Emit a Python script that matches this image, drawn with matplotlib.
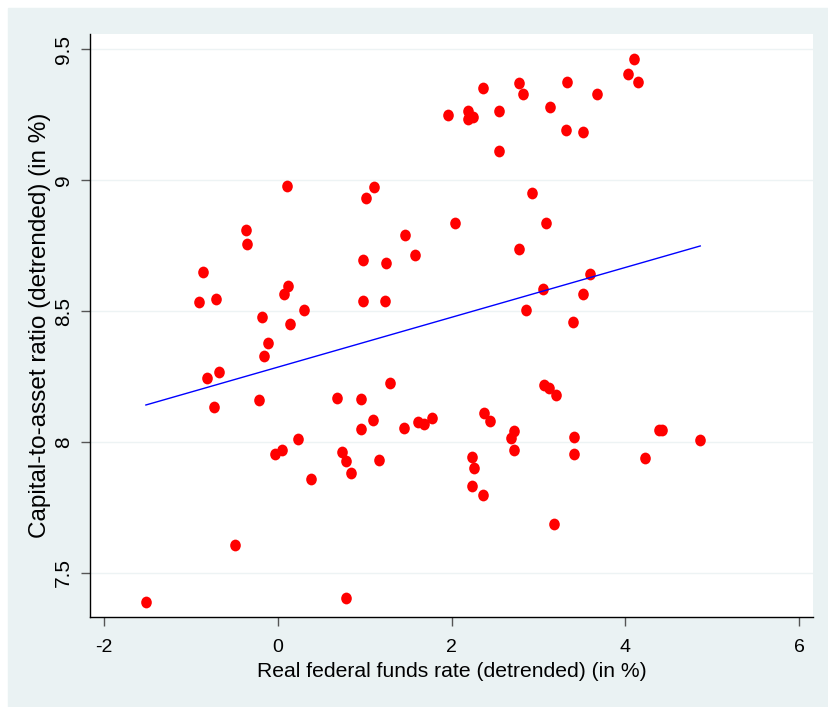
import numpy as np
import matplotlib
matplotlib.use("Agg")
import matplotlib.pyplot as plt
from matplotlib.patches import Rectangle
from matplotlib.path import Path
from matplotlib.transforms import Affine2D

# ── Dados ─────────────────────────────────────────────────────────────────────
# taxa real dos fed funds (desvio da tendência, %)
rate = [
    -1.518, -0.905, -0.859, -0.706, -0.813, -0.679, -0.736, -0.495, -0.361, -0.357,
    -0.219, -0.181, -0.161, -0.115, -0.035, 0.049, 0.110, 0.115, 0.076, 0.141,
    0.306, 0.230, 0.380, 0.679, 0.743, 0.782, 0.843, 0.782, 0.961, 0.961,
    0.981, 0.984, 1.015, 1.108, 1.093, 1.168, 1.234, 1.249, 1.292, 1.453,
    1.468, 1.576, 1.614, 1.686, 1.771, 1.959, 2.185, 2.185, 2.250, 2.365,
    2.549, 2.549, 2.772, 2.825, 3.135, 3.324, 3.319, 3.511, 3.672, 4.025,
    4.101, 4.140, 2.043, 2.928, 3.082, 2.779, 3.592, 3.055, 3.508, 2.852,
    3.396, 2.369, 2.445, 3.066, 3.120, 3.197, 2.721, 2.683, 2.721, 3.408,
    3.411, 2.235, 2.261, 2.235, 2.365, 3.174, 4.228, 4.389, 4.423, 4.860,
]
# razão capital/ativo (desvio da tendência, %)
capital = [
    7.391, 8.534, 8.650, 8.545, 8.244, 8.268, 8.134, 7.606, 8.811, 8.755,
    8.160, 8.478, 8.328, 8.377, 7.953, 7.968, 8.978, 8.595, 8.565, 8.451,
    8.504, 8.010, 7.860, 8.167, 7.961, 7.926, 7.880, 7.405, 8.165, 8.049,
    8.694, 8.540, 8.933, 8.972, 8.086, 7.930, 8.540, 8.684, 8.226, 8.054,
    8.792, 8.713, 8.077, 8.067, 8.092, 9.249, 9.265, 9.235, 9.240, 9.351,
    9.265, 9.110, 9.372, 9.327, 9.280, 9.374, 9.190, 9.185, 9.327, 9.406,
    9.462, 9.375, 8.838, 8.950, 8.838, 8.737, 8.640, 8.584, 8.567, 8.504,
    8.457, 8.109, 8.081, 8.216, 8.205, 8.180, 8.041, 8.016, 7.970, 8.018,
    7.956, 7.944, 7.901, 7.833, 7.797, 7.687, 7.938, 8.045, 8.045, 8.007,
]
# reta ajustada
FIT_INTERCEPT = 8.286
FIT_SLOPE     = 0.0952

XTICKS = [-2, 0, 2, 4, 6]
YTICKS = [7.5, 8, 8.5, 9, 9.5]
YTICK_LABELS = ["7.5", "8", "8.5", "9", "9.5"]

BG   = "#EAF2F3"
GRID = "#EDF3F4"

plt.rcParams["font.family"] = ["Liberation Sans", "DejaVu Sans"]
plt.rcParams["axes.unicode_minus"] = False

fig = plt.figure(figsize=(8.29, 7.07), dpi=100)
fig.patches.append(Rectangle((8 / 829, 0), 1, 1 - 8 / 707,
                             transform=fig.transFigure, color=BG, zorder=-10))

ax = fig.add_axes([90 / 829, 90 / 707, (812.7 - 90) / 829, (617 - 34) / 707])
ax.set_facecolor("white")

# marcador levemente oval, como no Stata
oval = Path.unit_circle().transformed(Affine2D().scale(0.9, 1.0))

ax.scatter(rate, capital, s=72, marker=oval, color="#FF0000",
           linewidths=0, zorder=3)

xs = np.array([min(rate), max(rate)])
ax.plot(xs, FIT_INTERCEPT + FIT_SLOPE * xs, color="#0000FF", lw=1.0, zorder=4)

ax.set_xlim(-2.161, 6.154)
ax.set_ylim(7.332, 9.558)
ax.set_xticks(XTICKS)
ax.set_yticks(YTICKS)
ax.set_yticklabels(YTICK_LABELS)

ax.grid(axis="y", color=GRID, lw=1.0, zorder=1)
ax.grid(axis="x", visible=False)

for side in ("top", "right"):
    ax.spines[side].set_visible(False)
for side in ("left", "bottom"):
    ax.spines[side].set_color("black")
    ax.spines[side].set_linewidth(1.0)

ax.tick_params(axis="both", direction="out", length=6.5, width=1.0,
               color="#555555", labelcolor="black")
ax.tick_params(axis="x", pad=9, labelsize=14)
ax.tick_params(axis="y", pad=6, labelsize=15)
for lbl in ax.get_yticklabels():
    lbl.set_rotation(90)
    lbl.set_va("center")

ax.set_xlabel("Real federal funds rate (detrended) (in %)", fontsize=15.2,
              labelpad=5)
ax.set_ylabel("Capital-to-asset ratio (detrended) (in %)", fontsize=17.5,
              labelpad=2)

fig.savefig("out.png", dpi=100, facecolor="white")
